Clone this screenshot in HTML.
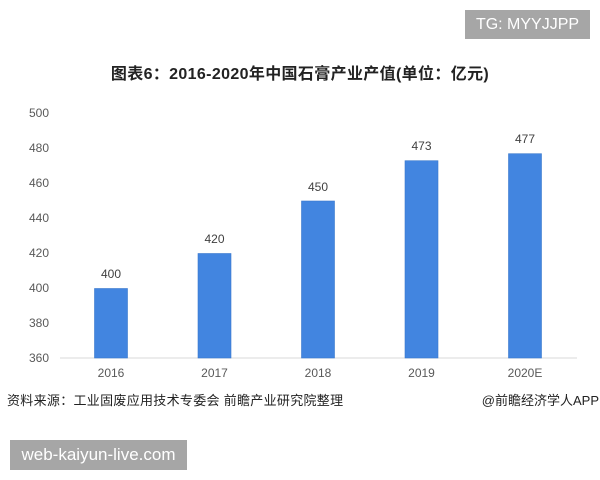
<!DOCTYPE html>
<html>
<head>
<meta charset="utf-8">
<style>
html,body{margin:0;padding:0;background:#fff;}
body{width:600px;height:480px;position:relative;overflow:hidden;font-family:"Liberation Sans","Noto Sans CJK SC",sans-serif;}
.tg{position:absolute;left:465px;top:10px;width:125px;height:29px;background:#a6a6a6;color:#fff;font-size:16px;line-height:29px;text-align:center;}
.title{position:absolute;left:0;width:600px;top:64px;text-align:center;font-size:16px;letter-spacing:0.35px;font-weight:bold;color:#222;line-height:22px;font-family:"Liberation Sans","Noto Sans CJK SC",sans-serif;}
.src{position:absolute;left:7px;top:392px;font-size:13px;color:#222;letter-spacing:0.3px;line-height:18px;}
.app{position:absolute;right:1px;top:392px;font-size:13px;color:#222;line-height:18px;}
.web{position:absolute;left:10px;top:440px;width:177px;height:30px;background:#a6a6a6;color:#fff;font-size:17px;line-height:30px;text-align:center;}
svg{position:absolute;left:0;top:0;}
</style>
</head>
<body>
<svg width="600" height="480" xmlns="http://www.w3.org/2000/svg" font-family="Liberation Sans, sans-serif">
  <g fill="#595959" font-size="12" text-anchor="end">
    <text x="49" y="117">500</text>
    <text x="49" y="152">480</text>
    <text x="49" y="187">460</text>
    <text x="49" y="222">440</text>
    <text x="49" y="257">420</text>
    <text x="49" y="292">400</text>
    <text x="49" y="327">380</text>
    <text x="49" y="362">360</text>
  </g>
  <line x1="60" y1="358" x2="577" y2="358" stroke="#d9d9d9" stroke-width="1"/>
  <g fill="#4285e0" stroke="#3a78cc" stroke-width="0.6">
    <rect x="94.5" y="288.5" width="33" height="69.5"/>
    <rect x="198" y="253.5" width="33" height="104.5"/>
    <rect x="301.5" y="201" width="33" height="157"/>
    <rect x="405" y="160.7" width="33" height="197.3"/>
    <rect x="508.5" y="153.7" width="33" height="204.3"/>
  </g>
  <g fill="#404040" font-size="12" text-anchor="middle">
    <text x="111" y="278">400</text>
    <text x="214.5" y="243">420</text>
    <text x="318" y="191">450</text>
    <text x="421.5" y="150">473</text>
    <text x="525" y="143">477</text>
  </g>
  <g fill="#595959" font-size="12" text-anchor="middle">
    <text x="111" y="377">2016</text>
    <text x="214.5" y="377">2017</text>
    <text x="318" y="377">2018</text>
    <text x="421.5" y="377">2019</text>
    <text x="525" y="377">2020E</text>
  </g>
</svg>
<div class="tg">TG: MYYJJPP</div>
<div class="title">图表6：2016-2020年中国石膏产业产值(单位：亿元)</div>
<div class="src">资料来源：工业固废应用技术专委会 前瞻产业研究院整理</div>
<div class="app">@前瞻经济学人APP</div>
<div class="web">web-kaiyun-live.com</div>
</body>
</html>
